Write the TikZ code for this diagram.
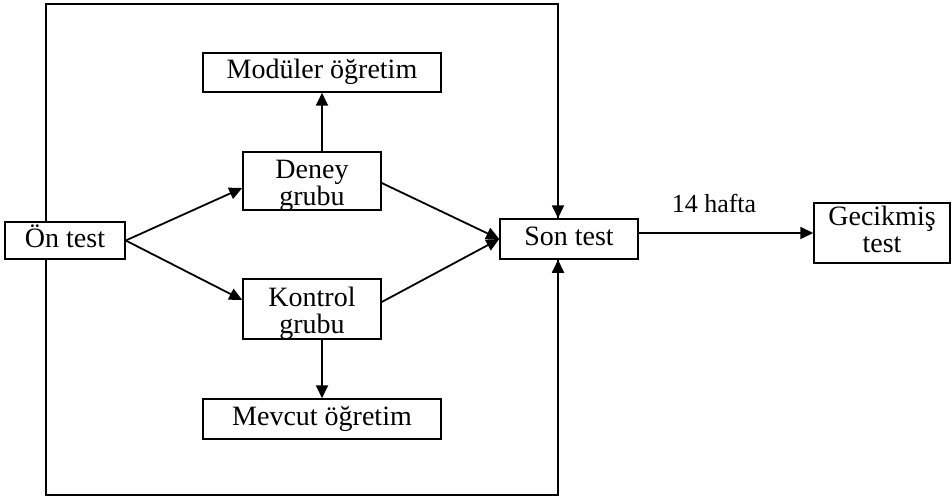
\documentclass[tikz,border=0pt]{standalone}
\usepackage{fontspec}
\setmainfont{Liberation Serif}
\usetikzlibrary{arrows.meta}
\begin{document}
\begin{tikzpicture}[x=1pt, y=-1pt,
  box/.style={draw, line width=1.5pt, inner sep=0pt, align=center,
    font=\fontsize{28}{27}\selectfont, text height=19pt, text depth=6pt},
  twoline/.style={box, text height=53pt, text depth=5pt},
  lbl/.style={font=\fontsize{26}{30}\selectfont, inner sep=0pt},
  arr/.style={line width=1.8pt, -{Triangle[length=13pt,width=12pt]}},
  frame/.style={line width=1.5pt}]
\useasboundingbox (0,0) rectangle (952,497);

% boxes
\node[box, minimum width=120pt, minimum height=37pt] (on) at (65,240.5) {Ön test};
\node[box, minimum width=238pt, minimum height=39pt] (mod) at (322,72.5) {Modüler öğretim};
\node[twoline, minimum width=138pt, minimum height=58pt] (deney) at (312,181) {Deney\\grubu};
\node[twoline, minimum width=138pt, minimum height=60pt] (kontrol) at (312,309) {Kontrol\\grubu};
\node[box, minimum width=238pt, minimum height=40pt] (mev) at (322,419) {Mevcut öğretim};
\node[box, minimum width=138pt, minimum height=40pt] (son) at (569,239) {Son test};
\node[twoline, text height=44pt, text depth=6pt, minimum width=136pt, minimum height=60pt] (gec) at (882,233) {Gecikmiş\\test};
\node[lbl, anchor=base] (wk) at (714,212) {14 hafta};

% outer loop around the groups
\coordinate (tl) at (46,4);
\coordinate (tr) at (558,4);
\coordinate (bl) at (46,495);
\coordinate (br) at (558,495);
\draw[frame] (on.north -| tl) -- (tl) -- (tr) -- (tr |- son.north);
\draw[frame] (on.south -| bl) -- (bl) -- (br) -- (br |- son.south);
\draw[arr] ([yshift=20pt]tr |- son.north) -- (tr |- son.north);
\draw[arr] ([yshift=-20pt]br |- son.south) -- (br |- son.south);

% flow
\draw[arr] (on.east) -- ([yshift=-7pt]deney.west);
\draw[arr] (on.east) -- ([yshift=9pt]kontrol.west);
\draw[arr] ([yshift=-2pt]deney.east) -- (son.west);
\draw[arr] ([yshift=7pt]kontrol.east) -- (son.west);
\draw[arr] (deney.north -| mod.south) -- (mod.south);
\draw[arr] (kontrol.south -| mev.north) -- (mev.north);
\draw[arr] (son.east |- gec.west) -- (gec.west);
\end{tikzpicture}
\end{document}
